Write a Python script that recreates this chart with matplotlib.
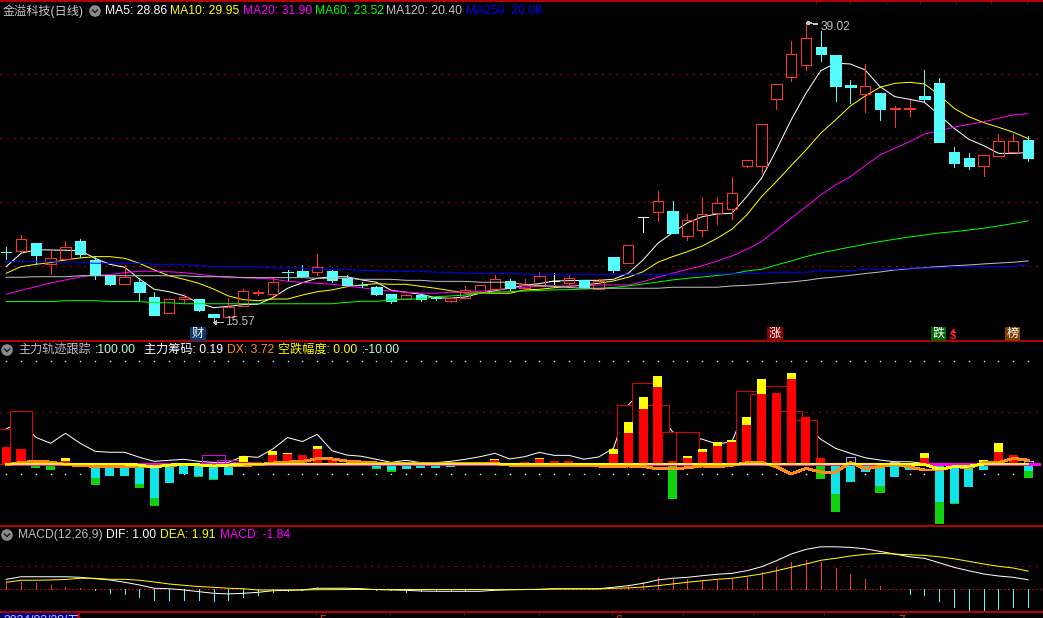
import matplotlib
matplotlib.use("Agg")
import matplotlib.pyplot as plt
from matplotlib.patches import Circle

plt.rcParams['font.family'] = ['Liberation Sans', 'Noto Sans CJK SC', 'DejaVu Sans']
plt.rcParams['axes.unicode_minus'] = False
plt.rcParams['lines.antialiased'] = False
plt.rcParams['patch.antialiased'] = False

# K线 开高低收
k_open = [21.12,21.20,21.77,20.16,20.57,21.95,20.47,19.30,18.62,18.73,
          17.58,16.35,17.45,17.40,16.25,16.04,16.90,17.90,17.84,19.52,
          19.61,19.55,19.61,19.04,18.53,18.34,17.81,17.45,17.73,17.49,
          17.27,17.52,17.91,18.18,18.83,18.30,18.46,18.85,18.70,18.91,
          18.23,20.70,20.26,23.83,24.24,24.30,22.37,22.84,24.16,24.48,
          27.84,27.84,33.02,34.79,35.68,37.11,36.48,34.14,33.46,33.52,
          32.27,32.27,33.28,34.30,28.91,28.44,27.84,28.62,28.91,29.84]
k_close = [21.09,22.09,20.86,20.60,21.51,20.94,19.30,18.59,19.12,17.97,
           16.17,17.40,17.58,16.56,16.04,16.80,18.02,17.93,18.73,19.50,
           19.22,19.90,18.91,18.52,18.51,17.81,17.29,17.71,17.45,17.47,
           17.52,18.10,18.52,18.96,18.28,18.52,19.22,18.85,19.04,18.38,
           18.83,19.69,21.62,23.83,25.05,22.60,23.57,24.04,24.90,25.68,
           28.26,31.07,34.20,36.54,37.79,36.59,34.06,33.98,34.04,32.27,
           32.31,32.31,33.05,29.69,28.05,27.81,28.65,29.74,29.74,28.44]
k_high = [21.51,22.42,21.77,21.17,21.95,22.11,20.70,19.30,20.08,19.06,
          17.99,17.50,17.81,17.42,16.25,17.50,18.18,18.13,19.06,19.69,
          20.08,20.94,19.69,19.30,18.73,18.46,17.81,17.81,17.73,17.63,
          17.52,18.44,18.52,19.30,18.98,18.98,19.53,19.45,19.30,18.91,
          18.96,20.70,21.62,23.83,25.84,25.08,24.06,25.39,25.39,26.95,
          28.26,31.07,34.20,37.58,39.02,38.36,36.48,34.53,35.76,33.52,
          32.50,32.97,35.31,34.69,29.30,28.83,28.65,30.31,30.31,30.16]
k_low = [20.52,21.07,20.26,19.38,20.57,20.70,18.98,18.52,18.62,17.37,
         16.17,16.35,17.11,16.48,15.57,16.04,16.90,17.73,17.73,18.91,
         19.12,19.30,18.77,18.52,18.34,17.73,17.13,17.45,17.27,17.37,
         17.19,17.52,17.91,18.18,18.07,18.05,18.46,18.59,18.59,18.38,
         18.23,19.53,20.26,22.68,23.54,22.60,22.05,22.37,23.30,23.70,
         27.76,27.29,32.29,34.48,35.34,36.02,32.91,32.76,32.05,31.43,
         30.88,31.74,32.89,29.69,27.73,27.58,27.05,28.62,28.91,28.20]

ma5 = [19.95,20.99,21.27,21.25,21.23,21.20,20.60,20.13,19.90,18.98,
       18.18,17.99,17.68,17.11,16.74,16.85,16.98,17.01,17.52,18.26,
       18.70,19.04,19.16,19.16,18.91,18.73,18.10,17.95,17.79,17.52,
       17.48,17.58,17.87,18.07,18.26,18.49,18.62,18.83,18.85,18.88,
       18.88,18.96,19.43,20.47,21.77,22.60,23.38,23.85,24.06,24.12,
       25.41,26.85,29.06,31.41,33.49,35.26,35.84,35.78,35.31,34.01,
       33.23,33.02,32.79,31.80,30.76,29.90,29.40,28.80,28.80,28.86]
ma10 = [19.43,19.95,20.13,20.26,20.47,20.63,20.73,20.73,20.60,20.21,
        19.69,19.24,18.96,18.65,18.20,17.66,17.37,17.29,17.42,17.42,
        17.73,17.99,18.13,18.38,18.52,18.62,18.57,18.57,18.41,18.26,
        18.07,17.89,17.89,17.87,17.87,18.13,18.18,18.30,18.41,18.52,
        18.65,18.83,19.12,19.55,20.29,20.73,21.12,21.56,22.16,22.87,
        23.98,25.41,26.59,27.84,29.06,30.37,31.41,32.50,33.28,33.96,
        34.27,34.35,34.22,33.36,32.32,31.66,31.20,30.84,30.45,29.95]
ma20 = [17.79,18.10,18.38,18.67,18.91,19.14,19.30,19.32,19.48,19.59,
        19.59,19.55,19.48,19.35,19.22,19.09,19.09,19.04,18.98,18.80,
        18.73,18.65,18.57,18.44,18.30,18.13,18.05,17.95,17.89,17.87,
        17.95,17.95,18.02,18.13,18.26,18.34,18.44,18.44,18.44,18.44,
        18.52,18.52,18.52,18.77,19.12,19.43,19.74,20.02,20.39,20.78,
        21.30,21.90,22.81,23.73,24.63,25.55,26.33,26.98,27.84,28.67,
        29.20,29.71,30.31,30.57,30.84,31.07,31.25,31.54,31.80,31.90]
ma60 = [17.22,17.22,17.22,17.22,17.29,17.29,17.29,17.22,17.22,17.22,
        17.13,17.13,17.05,17.05,17.05,17.05,17.05,17.05,17.05,17.05,
        17.05,17.05,17.05,17.16,17.24,17.24,17.34,17.42,17.42,17.60,
        17.66,17.73,17.89,17.97,17.99,18.05,18.09,18.13,18.15,18.20,
        18.24,18.32,18.44,18.59,18.75,18.91,19.04,19.14,19.26,19.38,
        19.61,19.74,20.08,20.39,20.73,21.02,21.25,21.48,21.70,21.91,
        22.09,22.27,22.42,22.58,22.68,22.81,22.95,23.13,23.32,23.52]
ma120 = [19.12,19.12,19.16,19.16,19.16,19.24,19.24,19.24,19.24,19.24,
         19.24,19.24,19.24,19.16,19.16,19.16,19.09,19.09,19.09,19.09,
         19.09,19.04,19.04,19.04,18.96,18.96,18.96,18.88,18.88,18.80,
         18.80,18.80,18.73,18.73,18.73,18.55,18.48,18.40,18.32,18.26,
         18.26,18.26,18.26,18.26,18.26,18.34,18.34,18.34,18.34,18.44,
         18.49,18.57,18.67,18.75,18.87,19.04,19.14,19.27,19.41,19.53,
         19.69,19.79,19.87,19.95,20.02,20.08,20.16,20.23,20.29,20.40]
ma250 = [20.34,20.34,20.34,20.34,20.29,20.29,20.21,20.21,20.21,20.21,
         20.13,20.13,20.13,20.02,19.95,19.95,19.95,19.95,19.84,19.84,
         19.84,19.74,19.74,19.74,19.65,19.65,19.59,19.59,19.59,19.51,
         19.51,19.43,19.43,19.43,19.43,19.35,19.35,19.35,19.35,19.35,
         19.35,19.35,19.35,19.35,19.35,19.35,19.38,19.38,19.38,19.38,
         19.43,19.43,19.51,19.51,19.51,19.63,19.63,19.63,19.74,19.74,
         19.74,19.84,19.84,19.84,19.95,19.95,19.95,19.95,19.98,20.08]

# 主力轨迹跟踪
zl_red = [16.5,14.6,0,0,2.9,0,0,0,0,0,
          0,0,0,0,0,0,1.9,1.5,8.7,9.7,
          8.7,14.6,3.9,0,0,0,0,0,0,0,
          0,0,0,3.9,0,1.9,4.9,2.9,2.9,0,
          0,9.7,30.1,53.4,74.7,2.9,5.8,11.6,17.5,21.3,
          37.8,67.9,68.9,82.5,45.6,5.8,0,0,0,0,
          0,0,5.8,0,0,0,0,11.6,8.7,0]
zl_yellow = [0,0,0,0,2.9,0,0,0,0,0,
             0,0,0,0,0,0,5.8,0,3.9,1.0,
             0,2.9,0,0,0,0,0,0,0,0,
             0,0,0,1.0,0,0,1.0,0,0,0,
             0,4.9,10.7,11.6,10.7,0,1.9,2.9,3.9,1.9,
             7.8,14.6,0,5.8,0,0,0,0,0,0,
             0,0,4.9,0,0,0,3.9,8.7,0,0]
zl_cyan = [0,0,0,1.9,0,0,13.3,11.6,11.6,19.4,
           33.0,18.4,9.7,11.6,14.6,10.7,0,0,0,0,
           0,0,0,0,0,3.9,5.8,4.9,3.9,3.9,
           2.9,0,0,0,0,0,0,0,0,0,
           0,0,0,0,0,0,0,0,0,0,
           0,0,0,0,0,0,29.1,17.5,7.8,21.3,
           12.6,5.8,0,36.9,37.8,22.3,5.8,0,0,6.8]
zl_green = [0,0,3.9,3.9,0,0,7.1,0,0,3.9,
            7.8,0,0,1.0,1.0,0,0,0,0,0,
            0,0,0,1.9,1.9,1.0,1.9,0,0,0,
            0,1.9,0,0,0,0,0,0,0,0,
            0,0,0,0,0,34.0,0,0,0,0,
            0,0,0,0,0,14.6,17.5,0,0,6.8,
            0,0,0,21.3,1.0,0,0,0,0,6.8]
zl_white = [34.0,41.7,25.9,20.1,29.8,20.1,12.3,11.4,11.4,6.5,
            2.6,3.6,4.6,2.6,1.6,1.6,7.5,6.5,14.6,25.7,
            21.8,28.8,12.9,8.7,7.5,4.6,1.6,3.6,1.3,1.3,
            2.6,4.6,7.1,10.4,4.9,7.1,11.3,8.4,8.4,4.7,
            6.8,15.2,57.2,71.8,50.4,31.0,27.2,24.0,19.4,21.6,
            57.2,62.0,62.0,47.5,37.8,24.0,15.2,10.4,6.1,3.9,
            2.2,2.2,0.5,0.3,0.2,0.2,0.2,0.2,0.2,0.19]
zl_dx = [-0.7,1.5,2.6,1.9,-0.5,-1.5,-2.2,-2.2,-2.2,-1.9,
         -2.2,-1.5,-0.5,-1.0,-1.9,-1.5,-1.3,-0.7,1.0,1.9,
         2.6,5.1,4.9,2.9,1.9,1.0,0.3,0.5,0.5,0.5,
         0.5,0.5,0.5,0.5,-1.0,-1.0,-1.9,-1.9,-1.9,-1.9,
         -1.9,-2.9,-1.9,-2.4,-4.6,-4.6,-3.6,-1.9,-2.6,-1.3,
         1.3,1.5,-2.6,-9.7,-4.2,-7.8,-7.8,1.6,-4.6,-2.6,
         -0.3,-2.9,-5.8,-5.8,-2.2,-3.9,1.3,1.3,5.5,3.72]
zl_kd = [0,0,0,0,0,0,0,0,0,-1.0,
         -2.9,-1.0,0,-0.8,-2.0,-1.0,0,0,0,0,
         0,0,0,0,0,0,0,0,0,0,
         0,0,0,0,0,0,0,0,0,0,
         0,0,0,0,0,0,0,0,0,0,
         0,0,0,0,0,0,0,0,0,0,
         0,0,-0.5,-4.9,-2.6,-2.0,0,0,0,0]
box_idx = [0,1,42,43,44,45,46,50,51,52,53,54]
box_val = [33.7,51.4,56.9,78.3,56.9,30.7,30.7,70.5,67.9,75.4,51.1,42.7]
box2_idx = [14,15,16]
box2_val = [8.4,3.6,2.2]
box3_idx = [57,60,69]
box3_val = [6.5,2.2,2.9]

# MACD
macd_bar = [0.74,0.77,0.63,0.42,0.27,0.14,-0.03,-0.36,-0.49,-0.81,
            -1.12,-1.12,-1.12,-1.12,-1.20,-1.12,-0.81,-0.60,-0.25,-0.15,
            -0.03,0.20,0.14,0.03,0.02,-0.03,-0.05,-0.25,-0.20,-0.20,
            -0.20,-0.10,0.05,0.05,0.03,0.05,0.08,0.10,0.08,0.05,
            0.05,0.08,0.45,0.80,1.26,1.11,1.05,0.98,0.98,1.11,
            1.32,1.79,2.31,2.87,3.08,2.87,2.24,1.61,1.08,0.35,
            0.03,-0.49,-0.60,-1.23,-1.86,-2.17,-2.28,-2.07,-1.86,-1.84]
dif = [1.05,1.32,1.32,1.32,1.32,1.26,1.11,0.98,0.74,0.45,
       0.11,0.06,-0.07,-0.25,-0.42,-0.49,-0.42,-0.32,-0.15,-0.11,
       -0.07,0.11,0.11,0.11,0.06,-0.04,-0.07,-0.11,-0.18,-0.21,
       -0.21,-0.21,-0.21,-0.10,-0.06,-0.03,0,0.06,0.06,0.06,
       0.06,0.21,0.38,0.63,0.98,1.16,1.26,1.43,1.58,1.68,
       1.95,2.37,3.00,3.71,4.20,4.47,4.47,4.41,4.26,3.99,
       3.71,3.42,3.26,2.79,2.31,1.95,1.61,1.40,1.26,1.00]
dea = [0.74,0.95,0.96,0.98,1.03,1.16,1.16,1.05,1.05,0.95,
       0.77,0.56,0.42,0.29,0.21,0.11,0.06,-0.07,-0.07,-0.07,
       -0.07,-0.04,-0.04,-0.02,-0.02,-0.02,-0.02,-0.02,-0.02,-0.02,
       -0.02,-0.02,-0.02,-0.02,-0.02,-0.02,-0.02,0.03,0.03,0.03,
       0.03,0.11,0.14,0.24,0.38,0.56,0.74,0.90,1.05,1.16,
       1.37,1.61,1.95,2.31,2.66,3.05,3.26,3.50,3.68,3.78,
       3.71,3.63,3.57,3.42,3.21,2.94,2.66,2.42,2.24,1.91]

price_grid = [20,25,30,35]
bottom_tick_idx = [20.9,25.9,30.9,36.0,40.9,45.7,50.4,55.2,59.9]
top_tick_idx = [54.7,57.0,59.4,61.7,64.1,66.5,68.9]

W, H = 1043, 618
RED = "#FF3232"
CYAN = "#54FCFC"
LINE = "#B00000"
GRID = "#A00000"
THIN = 0.5
MA_LW = 0.72
xx = list(range(len(k_open)))
xlim = (-6.2/14.81, (W-6.2)/14.81)

fig = plt.figure(figsize=(W/100, H/100), dpi=100, facecolor="black")


def make_ax(top, bottom, ylim):
    ax = fig.add_axes([0, 1-bottom/H, 1, (bottom-top)/H], facecolor="black")
    ax.set_xlim(xlim)
    ax.set_ylim(ylim)
    ax.set_yticks([])
    ax.set_xticks([])
    for s in ax.spines.values():
        s.set_visible(False)
    ax.spines['top'].set_visible(True)
    ax.spines['top'].set_color(LINE)
    ax.spines['top'].set_linewidth(1.1)
    return ax


# 主图
ax1 = make_ax(1, 341, (14.14, 40.70))
for g in price_grid:
    ax1.axhline(g, color=GRID, lw=THIN, ls=(0, (1.5, 8)), zorder=1)
ax1.xaxis.tick_top()
ax1.set_xticks(top_tick_idx)
ax1.set_xticklabels([])
ax1.tick_params(axis='x', colors=LINE, length=2, width=0.6, direction='in')

ax1.plot(xx, ma5, color="white", lw=MA_LW, zorder=2, antialiased=True)
ax1.plot(xx, ma10, color="#FFFF00", lw=MA_LW, zorder=2, antialiased=True)
ax1.plot(xx, ma20, color="#FF00FF", lw=MA_LW, zorder=2, antialiased=True)

for i in xx:
    o, h, l, c = k_open[i], k_high[i], k_low[i], k_close[i]
    lo, hi = min(o, c), max(o, c)
    if c > o:
        col = RED
        ax1.bar(i, hi-lo, 0.7, lo, facecolor="none", edgecolor=col, lw=THIN, zorder=3)
    elif c < o:
        col = CYAN
        ax1.bar(i, hi-lo, 0.7, lo, facecolor=col, edgecolor=col, lw=THIN, zorder=3)
    else:
        col = "white"
        ax1.hlines(c, i-0.35, i+0.35, color=col, lw=THIN, zorder=3, antialiased=False)
    ax1.vlines(i, hi, h, color=col, lw=THIN, zorder=3, antialiased=False)
    ax1.vlines(i, l, lo, color=col, lw=THIN, zorder=3, antialiased=False)

ax1.plot(xx, ma60, color="#00FF00", lw=MA_LW, zorder=4, antialiased=True)
ax1.plot(xx, ma120, color="#C0C0C0", lw=MA_LW, zorder=4, antialiased=True)
ax1.plot(xx, ma250, color="#0000FF", lw=MA_LW, zorder=4, antialiased=True)

hi_i = k_high.index(max(k_high))
lo_i = k_low.index(min(k_low))
ax1.annotate(f"{max(k_high):.2f}", xy=(hi_i, max(k_high)), xytext=(14.5, -4.5), textcoords='offset pixels',
             fontsize=8.6, color="#C0C0C0", va='center',
             arrowprops=dict(arrowstyle='-|>,head_length=0.2,head_width=0.12', color="#C0C0C0", lw=0.5, shrinkA=0, shrinkB=0))
ax1.annotate(f"{min(k_low):.2f}", xy=(lo_i, min(k_low)), xytext=(12, 1), textcoords='offset pixels',
             fontsize=8.6, color="#C0C0C0", va='center',
             arrowprops=dict(arrowstyle='-|>,head_length=0.2,head_width=0.12', color="#C0C0C0", lw=0.5, shrinkA=0, shrinkB=0))

# 副图1
ax2 = make_ax(341, 526, (-60.1, 119.3))
ax2.axhline(50, color=GRID, lw=THIN, ls=(0, (1.5, 8)), zorder=1)
ax2.plot(xx, [100]*len(xx), ls='none', marker='s', ms=1.0, mew=0, color="#C8FFE8", zorder=1)
ax2.plot(xx, [-10]*len(xx), ls='none', marker='s', ms=1.0, mew=0, color="#C8FFE8", zorder=1)
ax2.plot(xx, zl_white, color="white", lw=MA_LW, zorder=1.5, antialiased=True)
for i, v in zip(box_idx, box_val):
    ax2.bar(i, v, 1.5, facecolor="black", edgecolor="#E00000", lw=THIN, zorder=2)
for i, v in zip(box2_idx, box2_val):
    ax2.bar(i, v, 1.5, facecolor="none", edgecolor="#E000E0", lw=THIN, zorder=2)
for i, v in zip(box3_idx, box3_val):
    ax2.bar(i, v, 0.6, facecolor="none", edgecolor="#B0A0FF", lw=THIN, zorder=2)
ax2.bar(xx, zl_red, 0.61, color="#FF0000", zorder=3)
ax2.bar(xx, zl_yellow, 0.61, bottom=zl_red, color="#FFFF00", zorder=3)
neg_cyan = [-v for v in zl_cyan]
neg_green = [-v for v in zl_green]
ax2.bar(xx, neg_cyan, 0.61, color="#10E4E8", zorder=3)
ax2.bar(xx, neg_green, 0.61, bottom=neg_cyan, color="#10D010", zorder=3)
ax2.hlines(-0.3, 0, xlim[1]-0.2, color="#FF00FF", lw=0.8, zorder=4, antialiased=False)
ax2.plot(xx, zl_dx, color="#FF8C1A", lw=1.4, zorder=4)
ax2.plot(xx, zl_kd, color="#FFFF00", lw=1.3, zorder=5)

# 副图2
ax3 = make_ax(526, 612, (-2.39, 6.66))
ax3.axhline(2.5, color=GRID, lw=THIN, ls=(0, (1.5, 8)), zorder=1)
ax3.axhline(0, color="#C00000", lw=THIN, ls=(0, (1.5, 3)), zorder=1)
for i in xx:
    col = RED if macd_bar[i] > 0 else CYAN
    ax3.vlines(i, 0, macd_bar[i], color=col, lw=THIN, zorder=2, antialiased=False)
ax3.plot(xx, dif, color="white", lw=MA_LW, zorder=3, antialiased=True)
ax3.plot(xx, dea, color="#FFFF00", lw=MA_LW, zorder=3, antialiased=True)

# 时间轴
ax4 = make_ax(612, 618, (0, 1))
ax4.xaxis.tick_top()
ax4.set_xticks(bottom_tick_idx)
ax4.set_xticklabels([])
ax4.tick_params(axis='x', colors=LINE, length=2, width=0.6, direction='in')

# 文字层,坐标为像素
ov = fig.add_axes([0, 0, 1, 1])
ov.set_xlim(0, W)
ov.set_ylim(H, 0)
ov.axis('off')
ov.patch.set_visible(False)


def label(x, y, s, color, **kw):
    ov.text(x, y, s, color=color, fontsize=8.7, va='center', ha='left', **kw)


def icon(x, y):
    ov.add_patch(Circle((x, y), 5.8, facecolor="#8A8A8A", edgecolor="none", antialiased=True))
    ov.plot([x-2.5, x, x+2.5], [y-1, y+1.6, y-1], color="#1A1A1A", lw=1.0, antialiased=True)


label(3, 11, "金溢科技(日线)", "#C8C8C8")
icon(95, 11)
label(105, 11, "MA5: 28.86", "white")
label(170.5, 11, "MA10: 29.95", "#FFFF00")
label(243, 11, "MA20: 31.90", "#FF00FF")
label(315, 11, "MA60: 23.52", "#00FF00")
label(386.5, 11, "MA120: 20.40", "#C0C0C0")
label(465.5, 11, "MA250: 20.08", "#0000FF")

icon(7, 350)
label(18, 350, "主力轨迹跟踪", "#C0C0C0")
label(95, 350, ":100.00", "#B8FFD8")
label(144, 350, "主力筹码: 0.19", "white")
label(227, 350, "DX: 3.72", "#FF8C1A")
label(277.5, 350, "空跌幅度: 0.00", "#FFFF00")
label(361.5, 350, ":-10.00", "#B8FFD8")

icon(7, 535)
label(18.3, 535, "MACD(12,26,9)", "#C0C0C0")
label(106.5, 535, "DIF: 1.00", "white")
label(160.5, 535, "DEA: 1.91", "#FFFF00")
label(219.5, 535, "MACD: -1.84", "#FF00FF")

flags = [("财", 198, "#0A3A6E"), ("涨", 775, "#8B0000"), ("跌", 938.5, "#006400"), ("榜", 1012.5, "#7B3F00")]
for s, x, bg in flags:
    ov.text(x, 334, s, color="white", fontsize=8.7, ha='center', va='center',
            bbox=dict(boxstyle='square,pad=0.12', facecolor=bg, edgecolor='none'))
ov.text(953, 336, "$", color="#FF2020", fontsize=8, ha='center', va='center', fontweight='bold')
ov.plot([953], [330], marker='^', ms=3.5, mew=0, color="#FF2020")

ov.fill_between([1, 78], 613, 618, color="#000080", lw=0, zorder=2)
ov.plot([78, 78], [612, 618], color=LINE, lw=0.8, zorder=3)
ov.text(3, 620.5, "2024/02/28/五", color="#C8C8FF", fontsize=8.7, va='center', ha='left', zorder=4, clip_on=True)
for s, x in [("5", 319), ("6", 615), ("7", 898)]:
    ov.text(x, 620.5, s, color="#FF3030", fontsize=8.7, va='center', ha='left', clip_on=True)

fig.savefig("out.png", dpi=100, facecolor="black")
